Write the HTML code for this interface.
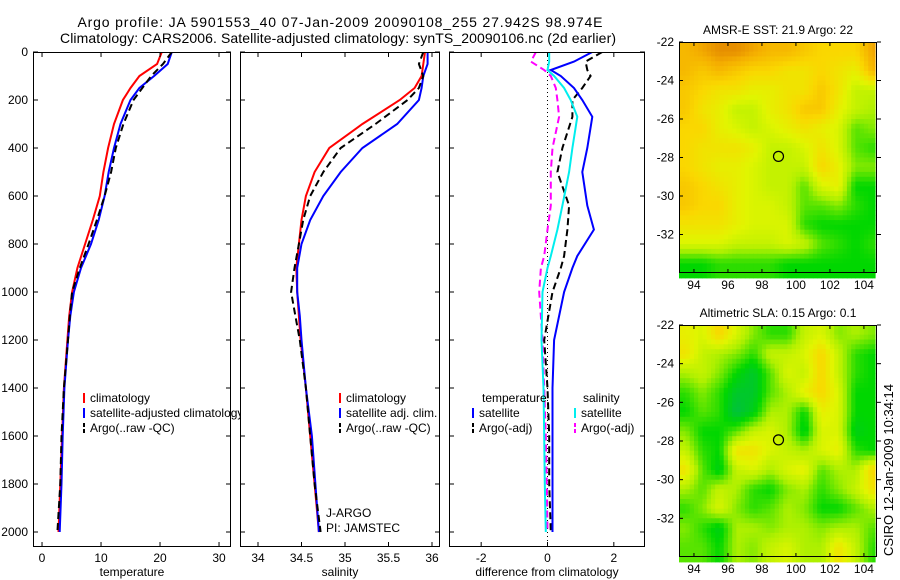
<!DOCTYPE html>
<html><head><meta charset="utf-8"><style>
body{margin:0;background:#fff}
svg{display:block;font-family:"Liberation Sans",sans-serif}
</style></head><body>
<svg id="s" width="900" height="580" viewBox="0 0 900 580">
<text x="340" y="27" font-size="14" text-anchor="middle" textLength="525">Argo profile: JA 5901553_40 07-Jan-2009 20090108_255 27.942S 98.974E</text>
<text x="338" y="43" font-size="14" text-anchor="middle" textLength="556">Climatology: CARS2006. Satellite-adjusted climatology: synTS_20090106.nc (2d earlier)</text>
<text transform="translate(893,470) rotate(-90)" font-size="13" text-anchor="middle">CSIRO 12-Jan-2009 10:34:14</text>
</svg>
<script>
const depths=[0,50,100,150,200,300,400,500,600,700,800,900,1000,1100,1200,1400,1600,1800,2000];
const tempClim=[20.3,19.5,16.5,15,13.7,12.2,11.2,10.4,9.8,8.6,7.3,6.0,5.1,4.6,4.3,3.7,3.4,3.1,2.8];
const tempSat=[22,21.3,19,16.5,15,13.3,12.2,11.3,10.6,9.6,8.3,6.6,5.4,4.8,4.4,3.8,3.5,3.3,3.0];
const tempArgo=[22,20.5,18.5,17,15.5,13.8,12.5,11.7,10.6,9.3,7.9,6.4,5.1,4.7,4.4,3.7,3.3,3.1,2.6];
const salClim=[35.92,35.9,35.88,35.8,35.63,35.2,34.82,34.65,34.55,34.5,34.47,34.44,34.45,34.47,34.49,34.55,34.6,34.65,34.7];
const salSat=[35.95,35.95,35.9,35.88,35.85,35.6,35.2,34.95,34.75,34.6,34.5,34.45,34.45,34.48,34.5,34.55,34.62,34.66,34.7];
const salArgo=[35.9,35.85,35.9,35.85,35.72,35.35,34.95,34.75,34.6,34.52,34.47,34.42,34.38,34.43,34.48,34.55,34.6,34.65,34.72];
const diffDepths=[0,40,75,100,150,200,270,400,500,640,740,850,900,1000,1200,1400,1600,1800,2000];
const diffTempSat=[1.35,0.8,0.1,0.4,0.8,1.05,1.35,1.2,1.05,1.2,1.4,0.9,0.75,0.5,0.2,0.15,0.15,0.15,0.15];
const diffSalSat=[0.05,0.05,0,0.2,0.5,0.7,0.9,0.75,0.65,0.45,0.3,0.1,0,-0.15,-0.18,-0.12,-0.1,-0.08,-0.05];
const diffTempArgo=[1.65,1.15,1.2,1.3,1.05,0.75,0.75,0.45,0.3,0.65,0.6,0.5,0.4,0.15,-0.1,0,0.05,0.05,0.1];
const diffSalArgo=[-0.35,-0.5,-0.1,0.1,0.25,0.3,0.35,0.15,0.1,0.1,0.0,-0.1,-0.2,-0.25,-0.15,-0.1,-0.05,-0.02,0];
const depthTicks=[0,200,400,600,800,1000,1200,1400,1600,1800,2000];
const tempTicks=[0,10,20,30];
const salTicks=[34,34.5,35,35.5,36];
const salTickLabels=["34","34.5","35","35.5","36"];
const diffTicks=[-2,0,2];
const lonTicks=[94,96,98,100,102,104];
const latTicks=[-22,-24,-26,-28,-30,-32];
const sstGrid=[
[0.85,0.9,0.95,0.95,0.9,0.85,0.85,0.8,0.75,0.75,0.75,0.9],
[0.85,0.8,0.85,0.8,0.75,0.75,0.7,0.7,0.75,0.7,0.65,0.85],
[0.8,0.75,0.7,0.7,0.65,0.65,0.7,0.7,0.8,0.7,0.55,0.55],
[0.8,0.7,0.65,0.55,0.55,0.65,0.7,0.8,0.8,0.65,0.55,0.5],
[0.75,0.75,0.65,0.6,0.55,0.6,0.65,0.7,0.65,0.6,0.4,0.45],
[0.75,0.7,0.7,0.7,0.65,0.55,0.55,0.6,0.7,0.6,0.4,0.35],
[0.75,0.7,0.65,0.65,0.6,0.55,0.55,0.55,0.75,0.65,0.45,0.45],
[0.8,0.75,0.7,0.65,0.6,0.55,0.55,0.4,0.6,0.65,0.3,0.3],
[0.8,0.75,0.75,0.65,0.6,0.6,0.55,0.4,0.4,0.45,0.35,0.3],
[0.7,0.7,0.7,0.65,0.6,0.6,0.6,0.35,0.3,0.3,0.3,0.3],
[0.6,0.6,0.6,0.55,0.55,0.55,0.6,0.55,0.4,0.35,0.3,0.35],
[0.3,0.3,0.35,0.35,0.35,0.35,0.3,0.3,0.3,0.3,0.3,0.3]];
const slaGrid=[
[0.65,0.6,0.75,0.6,0.45,0.35,0.35,0.55,0.6,0.45,0.5,0.45],
[0.7,0.55,0.5,0.45,0.35,0.55,0.55,0.6,0.75,0.55,0.35,0.3],
[0.5,0.55,0.45,0.3,0.2,0.4,0.6,0.55,0.75,0.55,0.35,0.3],
[0.35,0.45,0.35,0.2,0.2,0.4,0.5,0.65,0.75,0.6,0.3,0.3],
[0.3,0.4,0.35,0.15,0.25,0.5,0.5,0.3,0.65,0.6,0.3,0.3],
[0.45,0.3,0.3,0.4,0.55,0.6,0.5,0.25,0.6,0.6,0.25,0.3],
[0.55,0.35,0.3,0.7,0.7,0.6,0.55,0.5,0.6,0.65,0.35,0.3],
[0.7,0.4,0.25,0.55,0.6,0.5,0.6,0.65,0.4,0.5,0.5,0.75],
[0.5,0.4,0.55,0.5,0.35,0.3,0.45,0.5,0.35,0.45,0.55,0.7],
[0.35,0.45,0.6,0.45,0.35,0.4,0.5,0.45,0.3,0.3,0.4,0.5],
[0.45,0.35,0.25,0.5,0.5,0.45,0.5,0.5,0.45,0.5,0.5,0.4],
[0.4,0.4,0.3,0.5,0.45,0.55,0.6,0.5,0.5,0.7,0.55,0.35]];

const S=document.getElementById('s');const NS='http://www.w3.org/2000/svg';
function el(t,a,p){const e=document.createElementNS(NS,t);for(const k in a)e.setAttribute(k,a[k]);(p||S).appendChild(e);return e;}
function txt(x,y,s,a,p){const e=el('text',Object.assign({x:x,y:y,'font-size':12},a||{}),p);e.textContent=s;return e;}
const Y0=52,YK=0.24;
function yD(d){return Y0+YK*d;}
const panels=[
 {name:'temperature',x0:33,x1:231,v0:-1.53,v1:32.03,ticks:tempTicks,labels:tempTicks.map(String),label:'temperature'},
 {name:'salinity',x0:240,x1:440,v0:33.793,v1:36.092,ticks:salTicks,labels:salTickLabels,label:'salinity'},
 {name:'difference',x0:449,x1:645,v0:-2.97,v1:2.94,ticks:diffTicks,labels:diffTicks.map(String),label:'difference from climatology'}];
function xf(p,v){return p.x0+(v-p.v0)/(p.v1-p.v0)*(p.x1-p.x0);}
const YB=547;
panels.forEach((p,i)=>{
 const g=el('g',{}) ;
 el('rect',{x:p.x0,y:Y0,width:p.x1-p.x0,height:YB-Y0,fill:'#fff'},g);
 const cp=el('clipPath',{id:'c'+i},g);el('rect',{x:p.x0,y:Y0,width:p.x1-p.x0,height:YB-Y0},cp);
 p.g=g;
});
function line(p,vals,dep,col,dash,name,w){
 const pts=vals.map((v,i)=>xf(p,v).toFixed(1)+','+yD(dep[i]).toFixed(1)).join(' ');
 const e=el('polyline',{points:pts,fill:'none',stroke:col,'stroke-width':w||2,'stroke-dasharray':dash||'none','clip-path':'url(#c'+panels.indexOf(p)+')'},p.g);
 
 
}
const P1=panels[0],P2=panels[1],P3=panels[2];
line(P1,tempClim,depths,'#f00','','temp-climatology-line');
line(P1,tempSat,depths,'#00f','','temp-satellite-line');
line(P1,tempArgo,depths,'#000','7,4','temp-argo-line');
line(P2,salClim,depths,'#f00','','sal-climatology-line');
line(P2,salSat,depths,'#00f','','sal-satellite-line');
line(P2,salArgo,depths,'#000','7,4','sal-argo-line');
el('line',{x1:xf(P3,0),x2:xf(P3,0),y1:Y0,y2:YB,stroke:'#000','stroke-width':1,'stroke-dasharray':'1,3'},P3.g);
line(P3,diffSalArgo,diffDepths,'#f0f','7,4','diff-sal-argo-line');
line(P3,diffTempArgo,diffDepths,'#000','7,4','diff-temp-argo-line');
line(P3,diffTempSat,diffDepths,'#00f','','diff-temp-satellite-line');
line(P3,diffSalSat,diffDepths,'#0ee','','diff-sal-satellite-line');
panels.forEach((p,i)=>{
 el('rect',{x:p.x0+0.5,y:Y0+0.5,width:p.x1-p.x0-1,height:YB-Y0-1,fill:'none',stroke:'#000','stroke-width':1},p.g);
 p.ticks.forEach((t,j)=>{const x=xf(p,t);
  el('line',{x1:x,x2:x,y1:Y0,y2:Y0+5,stroke:'#000'},p.g);el('line',{x1:x,x2:x,y1:YB,y2:YB-5,stroke:'#000'},p.g);
  const e=txt(x,562,p.labels[j],{'text-anchor':'middle'},p.g);});
 depthTicks.forEach(d=>{const y=yD(d);
  el('line',{x1:p.x0,x2:p.x0+5,y1:y,y2:y,stroke:'#000'},p.g);el('line',{x1:p.x1,x2:p.x1-5,y1:y,y2:y,stroke:'#000'},p.g);
  if(i==0){const e=txt(28,y+4,String(d),{'text-anchor':'end'},p.g);}});
 const e=txt((p.x0+p.x1)/2,576,p.label,{'text-anchor':'middle'},p.g);
});
function leg(x,y,col,s,dash,g){
 el('line',{x1:x,x2:x,y1:y-9,y2:y+1,stroke:col,'stroke-width':2,'stroke-dasharray':dash?'4,2':'none'},g);
 const e=txt(x+6,y,s,{},g);
}
[['#f00','climatology'],['#00f','satellite-adjusted climatology'],['#000','Argo(..raw -QC)']].forEach((r,i)=>leg(84,402+i*15,r[0],r[1],i==2,P1.g));
S.appendChild(P2.g);S.appendChild(P3.g);
[['#f00','climatology'],['#00f','satellite adj. clim.'],['#000','Argo(..raw -QC)']].forEach((r,i)=>leg(340,402+i*15,r[0],r[1],i==2,P2.g));
txt(482,402,'temperature',{},P3.g);txt(583,402,'salinity',{},P3.g);
leg(473,417,'#00f','satellite',false,P3.g);leg(473,432,'#000','Argo(-adj)',true,P3.g);
leg(575,417,'#0ee','satellite',false,P3.g);leg(575,432,'#f0f','Argo(-adj)',true,P3.g);
txt(326,517,'J-ARGO',{},P2.g);txt(326,532,'PI: JAMSTEC',{},P2.g);

function cmap(v){const st=[[0,[0,170,130]],[0.3,[0,215,0]],[0.5,[175,240,0]],[0.62,[225,245,0]],[0.75,[250,215,0]],[0.88,[245,175,0]],[1,[220,120,0]]];
 v=Math.max(0,Math.min(1,v));
 for(let i=1;i<st.length;i++){if(v<=st[i][0]){const a=st[i-1],b=st[i],t=(v-a[0])/(b[0]-a[0]);return 'rgb('+a[1].map((c,k)=>Math.round(c+(b[1][k]-c)*t)).join(',')+')';}}return 'rgb(220,120,0)';}
function sample(grid,lon,lat){
 // bilinear between cell centres (cell c centred at 93.5+c, row r centred at -22.5-r)
 let fc=lon-93.5,fr=-22.5-lat;
 fc=Math.max(0,Math.min(11,fc));fr=Math.max(0,Math.min(11,fr));
 const c0=Math.min(10,Math.floor(fc)),r0=Math.min(10,Math.floor(fr)),tc=fc-c0,tr=fr-r0;
 return grid[r0][c0]*(1-tc)*(1-tr)+grid[r0][c0+1]*tc*(1-tr)+grid[r0+1][c0]*(1-tc)*tr+grid[r0+1][c0+1]*tc*tr;
}
function map(name,title,grid,top,bot){
 const g=el('g',{});
 const L=679,R=877,lon0=93.12,lon1=104.77;
 const xm=v=>L+(v-lon0)/(lon1-lon0)*(R-L),ym=v=>top+(-22-v)/12*(bot-top);
 const t=txt((L+R)/2,top-8,title,{'text-anchor':'middle'},g);
 const step=0.25;
 for(let lat=-22;lat>-34-1e-6;lat-=step){
  for(let lon=93.0;lon<104.7;lon+=step){
   const x0=Math.max(xm(lon),L),x1=Math.min(xm(lon+step),875),y0=ym(lat),y1=ym(lat-step);
   if(x1<=x0)continue;
   const v=sample(grid,lon+step/2,lat-step/2);
   const e=el('rect',{x:x0.toFixed(1),y:y0.toFixed(1),width:(x1-x0+0.6).toFixed(1),height:(y1-y0+0.6).toFixed(1),fill:cmap(v)},g);
   
   
  }
 }
 el('rect',{x:L+0.5,y:top+0.5,width:R-L-1,height:bot-top-1,fill:'none',stroke:'#000'},g);
 lonTicks.forEach(v=>{const x=xm(v);el('line',{x1:x,x2:x,y1:top,y2:top+4,stroke:'#000'},g);el('line',{x1:x,x2:x,y1:bot,y2:bot-4,stroke:'#000'},g);
  const e=txt(x,bot+16,String(v),{'text-anchor':'middle'},g);});
 latTicks.forEach(v=>{const y=ym(v);el('line',{x1:L,x2:L+4,y1:y,y2:y,stroke:'#000'},g);el('line',{x1:R,x2:R+4,y1:y,y2:y,stroke:'#000'},g);
  const e=txt(L-5,y+4,String(v),{'text-anchor':'end'},g);});
 const c=el('circle',{cx:xm(98.974),cy:ym(-27.942),r:5,fill:'none',stroke:'#000','stroke-width':1.2},g);
 
 
}
map('sst-map','AMSR-E SST: 21.9 Argo: 22',sstGrid,42,273);
map('sla-map','Altimetric SLA: 0.15 Argo: 0.1',slaGrid,325,557);
</script>
</body></html>
